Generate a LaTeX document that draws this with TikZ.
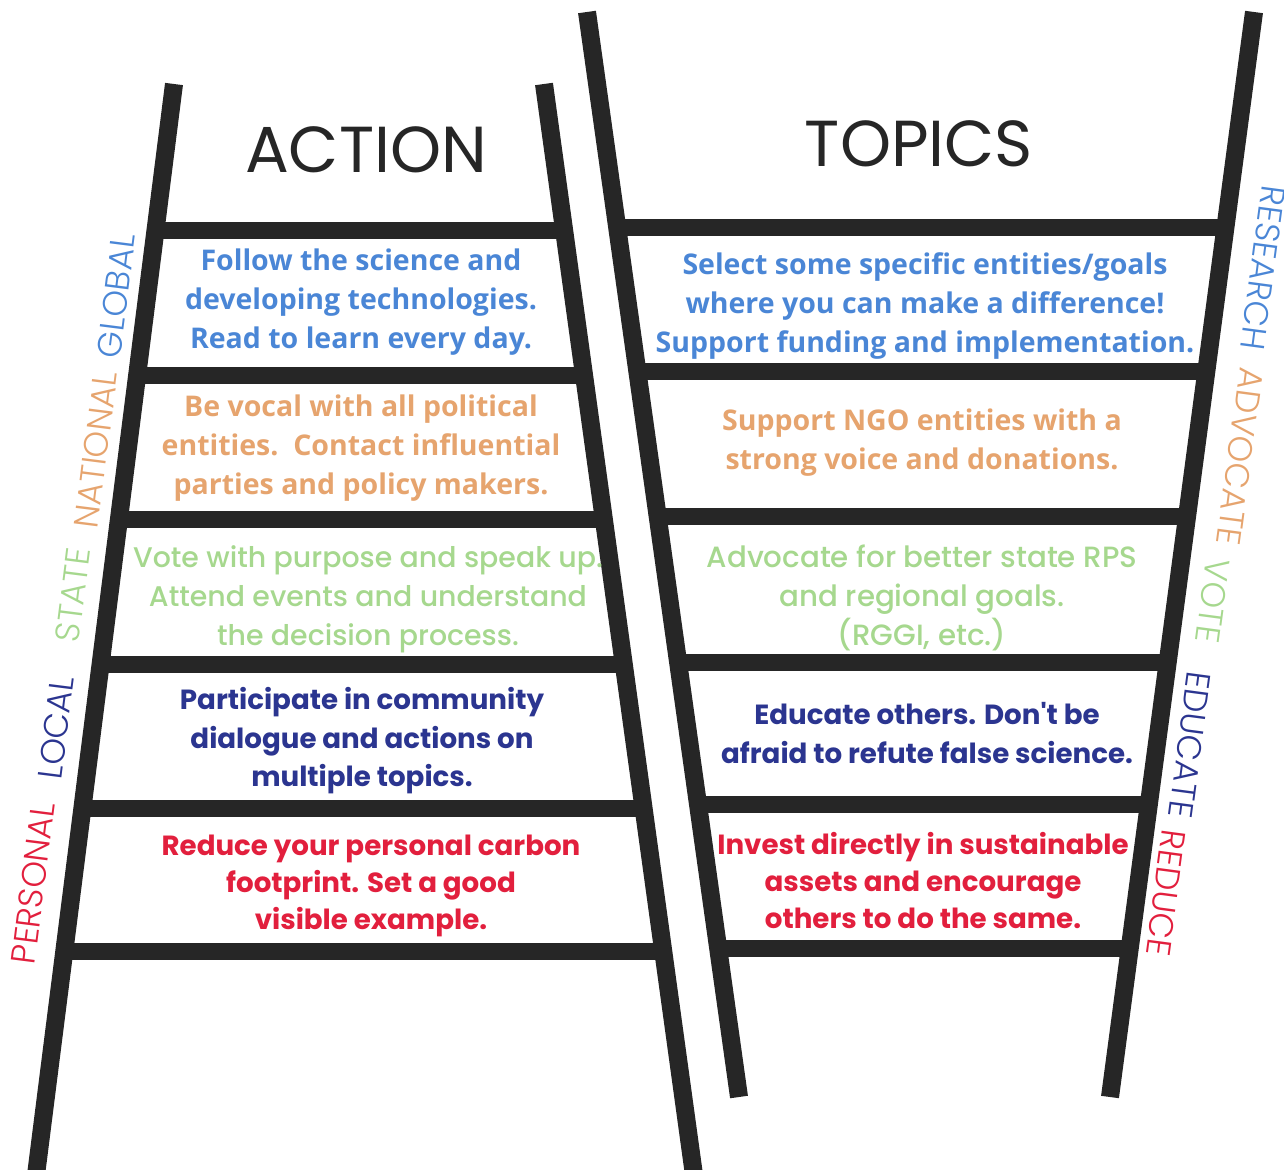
\documentclass[tikz,border=0pt]{standalone}
\usepackage{fontspec}
\setmainfont{Poppins}
\newfontfamily\opsans{Open Sans}
\IfFontExistsTF{Poppins Light}{\newfontfamily\poplight{Poppins Light}}{\newfontfamily\poplight{Poppins}}
\IfFontExistsTF{Poppins Medium}{\newfontfamily\popmed{Poppins Medium}}{\newfontfamily\popmed{Poppins}[FakeBold=0.5]}
\usetikzlibrary{calc}
\definecolor{railc}{HTML}{262626}
\definecolor{cblue}{HTML}{4A86D6}
\definecolor{corange}{HTML}{E6A46E}
\definecolor{cgreen}{HTML}{A6D88E}
\definecolor{cnavy}{HTML}{2B3590}
\definecolor{cred}{HTML}{E21F3D}
\begin{document}
\begin{tikzpicture}[x=1pt,y=-1pt,
  railline/.style={line width=18pt, draw=railc},
  rungline/.style={line width=17pt, draw=railc},
  bodyop/.style={align=center, inner sep=0pt, font=\opsans\bfseries\fontsize{28.5}{39}\selectfont},
  bodypop/.style={align=center, inner sep=0pt, font=\popmed\fontsize{28.4}{39}\selectfont},
  bodypopb/.style={align=center, inner sep=0pt, font=\bfseries\fontsize{27.7}{38.5}\selectfont},
  titletext/.style={inner sep=0pt, text=railc, font=\fontsize{65}{65}\selectfont},
  sidel/.style={inner sep=0pt, font=\poplight\fontsize{34}{34}\selectfont, rotate=82.8},
  sider/.style={inner sep=0pt, font=\poplight\fontsize{34}{34}\selectfont, rotate=-97.6},
]
\useasboundingbox (0,0) rectangle (1284,1169);
\clip (0,0) rectangle (1284,1169);
\fill[white] (0,0) rectangle (1284,1169);

% rails coordinates
\coordinate (LLt) at (174,84);
\coordinate (LLb) at (36,1175);
\coordinate (LRt) at (544,84);
\coordinate (LRb) at (694,1175);
\coordinate (RLt) at (587,12);
\coordinate (RLb) at (739,1097);
\coordinate (RRt) at (1254,12);
\coordinate (RRb) at (1110,1097);

% rungs
\foreach \y in {231,376,520,664,808,951}{
  \draw[rungline] ($(LLt)!{(\y-84)/1091}!(LLb)$) -- ($(LRt)!{(\y-84)/1091}!(LRb)$);
}
\foreach \y in {228,372,517,662,805,948}{
  \draw[rungline] ($(RLt)!{(\y-12)/1085}!(RLb)$) -- ($(RRt)!{(\y-12)/1085}!(RRb)$);
}
% rails
\draw[railline] (LLt) -- (LLb);
\draw[railline] (LRt) -- (LRb);
\draw[railline] (RLt) -- (RLb);
\draw[railline] (RRt) -- (RRb);

% titles
\node[titletext] (action) at (366,150) {ACTION};
\node[titletext] (topics) at (919,144) {TOPICS};

% left ladder texts
\node[bodyop, text=cblue] (a1) at (361,302) {Follow the science and\\developing technologies.\\Read to learn every day.};
\node[bodyop, text=corange] (a2) at (361,448) {Be vocal with all political\\entities.\ \ Contact influential\\parties and policy makers.};
\node[bodypop, text=cgreen] (a3) at (368,599) {Vote with purpose and speak up.\\Attend events and understand\\the decision process.};
\node[bodypopb, text=cnavy] (a4) at (362,741) {Participate in community\\dialogue and actions on\\multiple topics.};
\node[bodypopb, text=cred, font=\bfseries\fontsize{27.7}{37}\selectfont] (a5) at (371,886) {Reduce your personal carbon\\footprint. Set a good\\visible example.};

% right ladder texts
\node[bodyop, text=cblue] (t1) at (925,306) {Select some specific entities/goals\\where you can make a difference!\\Support funding and implementation.};
\node[bodyop, text=corange] (t2) at (922,443) {Support NGO entities with a\\strong voice and donations.};
\node[bodypop, text=cgreen, font=\popmed\fontsize{29.3}{39}\selectfont] (t3) at (922,598) {Advocate for better state RPS\\and regional goals.\\(RGGI, etc.)};
\node[bodypopb, text=cnavy] (t4) at (927,733) {Educate others. Don\textquotesingle t be\\afraid to refute false science.};
\node[bodypopb, text=cred, font=\bfseries\fontsize{27.7}{37}\selectfont] (t5) at (923,881) {Invest directly in sustainable\\assets and encourage\\others to do the same.};

% side labels left
\node[sidel, text=cblue] (lglobal) at (116,296) {GLOBAL};
\node[sidel, text=corange] (lnational) at (96,450) {NATIONAL};
\node[sidel, text=cgreen] (lstate) at (73,595) {STATE};
\node[sidel, text=cnavy] (llocal) at (56,728) {LOCAL};
\node[sidel, text=cred] (lpersonal) at (33,883) {PERSONAL};

% side labels right
\node[sider, text=cblue] (rresearch) at (1263,268) {RESEARCH};
\node[sider, text=corange] (radvocate) at (1240,457) {ADVOCATE};
\node[sider, text=cgreen] (rvote) at (1213,601) {VOTE};
\node[sider, text=cnavy] (reducate) at (1190,745) {EDUCATE};
\node[sider, text=cred] (rreduce) at (1166,893) {REDUCE};
\end{tikzpicture}
\end{document}
